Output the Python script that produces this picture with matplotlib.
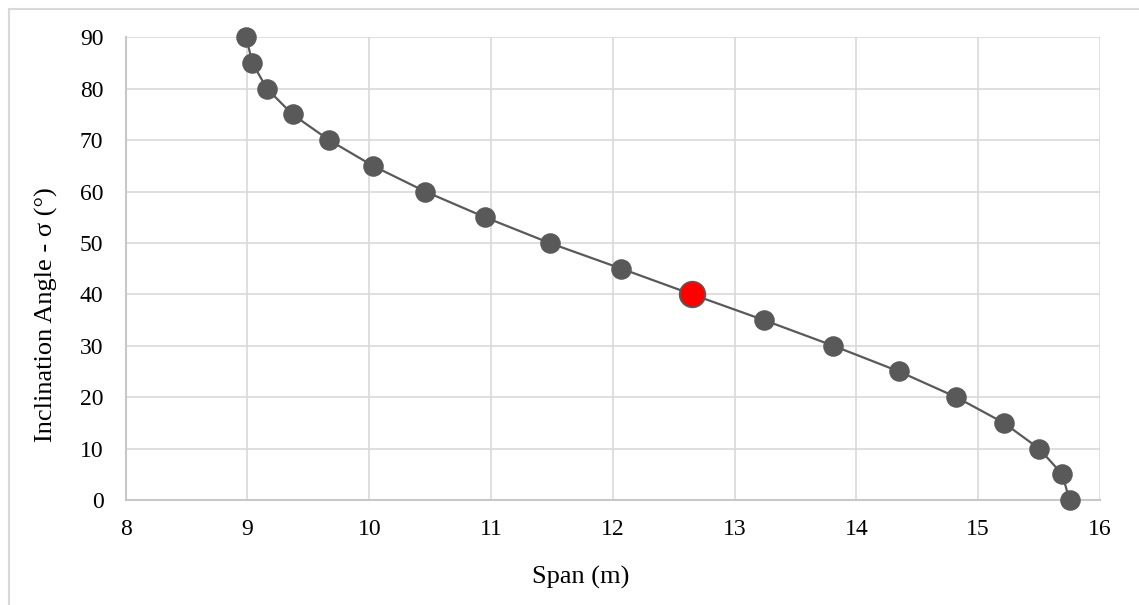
import matplotlib
matplotlib.use("Agg")
import matplotlib.pyplot as plt
from matplotlib.patches import Rectangle

# Span (m) versus inclination angle (deg)
span_m = [8.99, 9.04, 9.16, 9.37, 9.67, 10.03, 10.46, 10.95, 11.48, 12.07,
          12.65, 13.24, 13.81, 14.35, 14.82, 15.21, 15.50, 15.69, 15.75]
angle_deg = [90, 85, 80, 75, 70, 65, 60, 55, 50, 45,
             40, 35, 30, 25, 20, 15, 10, 5, 0]
highlight_span = [12.65]
highlight_angle = [40]

x_ticks = [8, 9, 10, 11, 12, 13, 14, 15, 16]
y_ticks = [0, 10, 20, 30, 40, 50, 60, 70, 80, 90]

plt.rcParams["font.family"] = ["Liberation Serif", "DejaVu Serif"]

W, H = 1139, 605
fig = plt.figure(figsize=(W / 100, H / 100), dpi=100)
fig.patch.set_facecolor("white")

# outer chart frame (top and left edges visible)
fig.add_artist(Rectangle((9 / W, -0.1), 1.2, 1 - 9 / H + 0.1,
                         transform=fig.transFigure, fill=False,
                         edgecolor="#d9d9d9", linewidth=1.5))

left, right = 125.7 / W, 1100 / W
bottom, top = 1 - 500 / H, 1 - 37.3 / H
ax = fig.add_axes([left, bottom, right - left, top - bottom])

grey = "#595959"
ax.plot(span_m, angle_deg, color=grey, linewidth=1.6, marker="o",
        markersize=13.8, markerfacecolor=grey, markeredgecolor=grey,
        zorder=3, clip_on=False)
ax.plot(highlight_span, highlight_angle, linestyle="none", marker="o",
        markersize=18.5, markerfacecolor="#ff0000", markeredgecolor=grey,
        markeredgewidth=1.2, zorder=4, clip_on=False)

ax.set_xlim(8, 16)
ax.set_ylim(0, 90)
ax.set_xticks(x_ticks)
ax.set_yticks(y_ticks)
ax.grid(True, color="#d9d9d9", linewidth=1.2)
ax.set_axisbelow(True)
for side in ["top", "right"]:
    ax.spines[side].set_visible(False)
for side in ["left", "bottom"]:
    ax.spines[side].set_color("#c8c8c8")
    ax.spines[side].set_linewidth(1.5)
ax.tick_params(axis="both", length=0, labelsize=17, colors="#000000")
ax.tick_params(axis="y", pad=16)
ax.tick_params(axis="x", pad=14)

ax.set_xlabel("Span (m)", fontsize=19)
ax.set_ylabel("Inclination Angle - σ (°)", fontsize=19)
ax.xaxis.label.set_va("baseline")
ax.xaxis.set_label_coords(0.467, -0.1815)
ax.yaxis.label.set_va("baseline")
ax.yaxis.set_label_coords(-0.0746, 0.40)

fig.savefig("out.png", dpi=100, facecolor="white")
